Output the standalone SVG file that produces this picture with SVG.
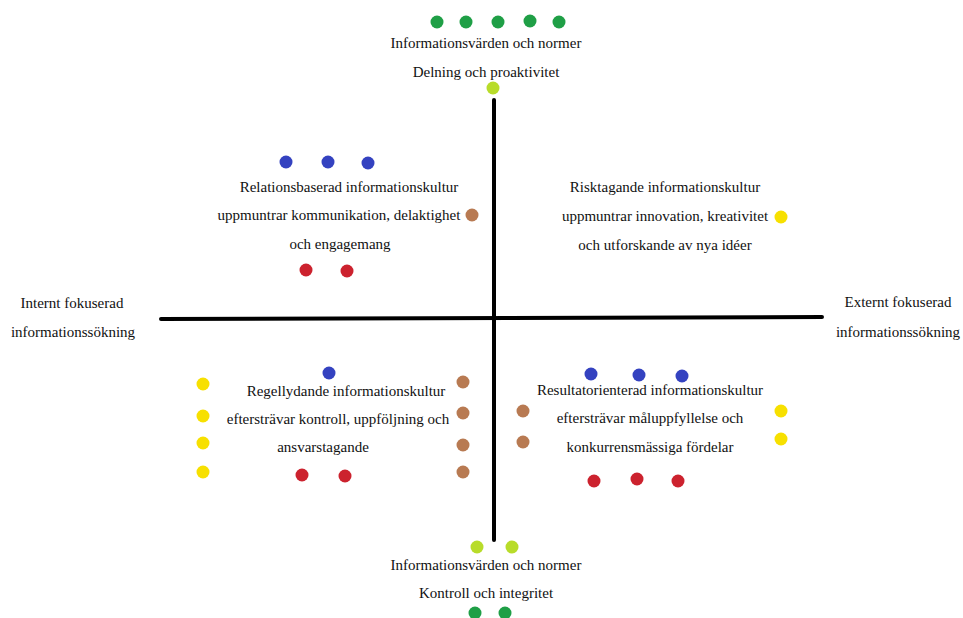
<svg xmlns="http://www.w3.org/2000/svg" width="963" height="618" viewBox="0 0 963 618">
  <style>
    .t { font-size: 15px; fill: #111; text-anchor: middle; }
    .axis { stroke: #000; stroke-width: 4; stroke-linecap: round; fill: none; }
    .g { fill: #1f9f46; }
    .l { fill: #b8dc2a; }
    .b { fill: #3442c0; }
    .r { fill: #cc222e; }
    .br { fill: #b87a52; }
    .y { fill: #f7e000; }
  </style>
  <rect width="963" height="618" fill="#fff"/>

  <!-- quadrant axes -->
  <g id="axes">
    <line class="axis" x1="494" y1="100" x2="494" y2="540"/>
    <line class="axis" x1="161" y1="319" x2="822" y2="317"/>
  </g>

  <g id="top">
    <circle class="g" cx="437" cy="22" r="6.5"/>
    <circle class="g" cx="466" cy="22" r="6.5"/>
    <circle class="g" cx="498" cy="22" r="6.5"/>
    <circle class="g" cx="530" cy="21" r="6.5"/>
    <circle class="g" cx="559" cy="22" r="6.5"/>
    <text class="t" font-family="Liberation Serif" x="486" y="48">Informationsvärden och normer</text>
    <text class="t" font-family="Liberation Serif" x="486" y="77">Delning och proaktivitet</text>
    <circle class="l" cx="493" cy="88" r="6.5"/>
  </g>

  <g id="relationsbaserad">
    <circle class="b" cx="286" cy="162" r="6.5"/>
    <circle class="b" cx="328" cy="162" r="6.5"/>
    <circle class="b" cx="368" cy="163" r="6.5"/>
    <text class="t" font-family="Liberation Serif" x="349" y="192">Relationsbaserad informationskultur</text>
    <text class="t" font-family="Liberation Serif" x="339" y="220">uppmuntrar kommunikation, delaktighet</text>
    <circle class="br" cx="472" cy="215" r="6.5"/>
    <text class="t" font-family="Liberation Serif" x="340" y="249">och engagemang</text>
    <circle class="r" cx="306" cy="270" r="6.5"/>
    <circle class="r" cx="347" cy="271" r="6.5"/>
  </g>

  <g id="risktagande">
    <text class="t" font-family="Liberation Serif" x="665" y="192">Risktagande informationskultur</text>
    <text class="t" font-family="Liberation Serif" x="665" y="221">uppmuntrar innovation, kreativitet</text>
    <text class="t" font-family="Liberation Serif" x="665" y="250">och utforskande av nya idéer</text>
    <circle class="y" cx="781" cy="217" r="6.5"/>
  </g>

  <g id="internt">
    <text class="t" font-family="Liberation Serif" x="72" y="308">Internt fokuserad</text>
    <text class="t" font-family="Liberation Serif" x="73" y="337">informationssökning</text>
  </g>

  <g id="externt">
    <text class="t" font-family="Liberation Serif" x="898" y="307">Externt fokuserad</text>
    <text class="t" font-family="Liberation Serif" x="898" y="337">informationssökning</text>
  </g>

  <g id="regellydande">
    <circle class="b" cx="329" cy="373" r="6.5"/>
    <circle class="y" cx="203" cy="384" r="6.5"/>
    <circle class="y" cx="203" cy="416" r="6.5"/>
    <circle class="y" cx="203" cy="443" r="6.5"/>
    <circle class="y" cx="203" cy="472" r="6.5"/>
    <circle class="br" cx="463" cy="382" r="6.5"/>
    <circle class="br" cx="463" cy="413" r="6.5"/>
    <circle class="br" cx="463" cy="445" r="6.5"/>
    <circle class="br" cx="463" cy="472" r="6.5"/>
    <text class="t" font-family="Liberation Serif" x="346" y="396">Regellydande informationskultur</text>
    <text class="t" font-family="Liberation Serif" x="338" y="424">eftersträvar kontroll, uppföljning och</text>
    <text class="t" font-family="Liberation Serif" x="323" y="452">ansvarstagande</text>
    <circle class="r" cx="302" cy="475" r="6.5"/>
    <circle class="r" cx="345" cy="476" r="6.5"/>
  </g>

  <g id="resultatorienterad">
    <circle class="b" cx="591" cy="374" r="6.5"/>
    <circle class="b" cx="639" cy="375" r="6.5"/>
    <circle class="b" cx="682" cy="376" r="6.5"/>
    <text class="t" font-family="Liberation Serif" x="650" y="395">Resultatorienterad informationskultur</text>
    <text class="t" font-family="Liberation Serif" x="650" y="423">eftersträvar måluppfyllelse och</text>
    <text class="t" font-family="Liberation Serif" x="650" y="452">konkurrensmässiga fördelar</text>
    <circle class="br" cx="523" cy="411" r="6.5"/>
    <circle class="br" cx="523" cy="442" r="6.5"/>
    <circle class="y" cx="781" cy="411" r="6.5"/>
    <circle class="y" cx="781" cy="439" r="6.5"/>
    <circle class="r" cx="594" cy="481" r="6.5"/>
    <circle class="r" cx="637" cy="479" r="6.5"/>
    <circle class="r" cx="678" cy="481" r="6.5"/>
  </g>

  <g id="bottom">
    <circle class="l" cx="477" cy="547" r="6.5"/>
    <circle class="l" cx="512" cy="547" r="6.5"/>
    <text class="t" font-family="Liberation Serif" x="486" y="570">Informationsvärden och normer</text>
    <text class="t" font-family="Liberation Serif" x="486" y="598">Kontroll och integritet</text>
    <circle class="g" cx="475" cy="613" r="6.5"/>
    <circle class="g" cx="505" cy="613" r="6.5"/>
  </g>
</svg>
